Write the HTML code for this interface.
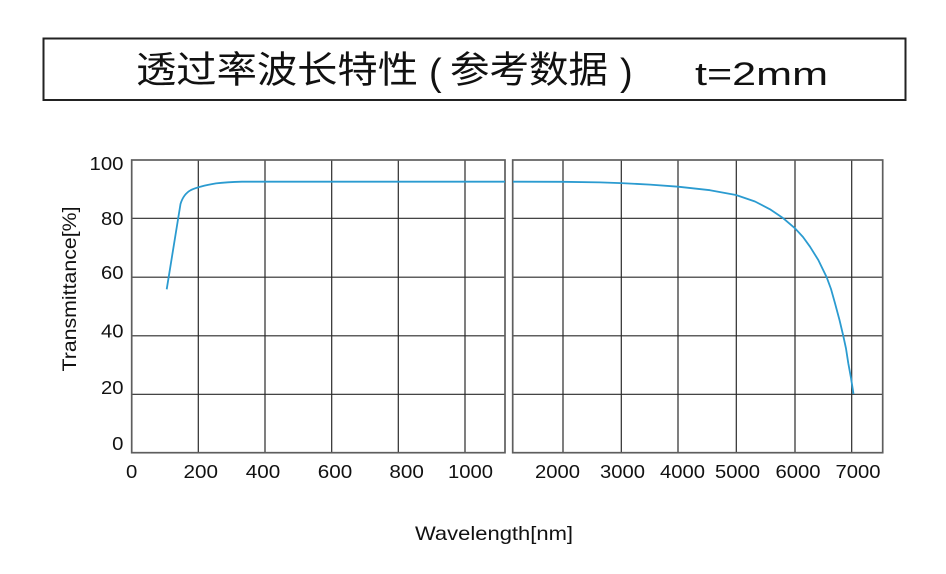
<!DOCTYPE html>
<html>
<head>
<meta charset="utf-8">
<style>
html,body{margin:0;padding:0;background:#fff;}
svg{display:block;}
text{font-family:"Liberation Sans","Noto Sans CJK SC",sans-serif;fill:#111;}
</style>
</head>
<body>
<svg width="946" height="574" viewBox="0 0 946 574" xmlns="http://www.w3.org/2000/svg">
  <rect x="0" y="0" width="946" height="574" fill="#fff"/>
  <!-- Title box -->
  <rect x="43.5" y="38.5" width="862" height="61.5" fill="none" stroke="#222" stroke-width="2"/>
  <text x="136" y="82.5" font-size="37" textLength="282" lengthAdjust="spacingAndGlyphs">透过率波长特性</text>
  <text x="429" y="85" font-size="38">(</text>
  <text x="450" y="82.5" font-size="37" textLength="158" lengthAdjust="spacingAndGlyphs">参考数据</text>
  <text x="620" y="85" font-size="38">)</text>
  <text x="695" y="85" font-size="32.5" textLength="133" lengthAdjust="spacingAndGlyphs">t=2mm</text>

  <!-- Grid lines -->
  <g stroke="#2a2a2a" stroke-width="1.2" fill="none">
    <!-- horizontal left -->
    <line x1="131.7" y1="218.3" x2="505" y2="218.3"/>
    <line x1="131.7" y1="277.2" x2="505" y2="277.2"/>
    <line x1="131.7" y1="335.8" x2="505" y2="335.8"/>
    <line x1="131.7" y1="394.3" x2="505" y2="394.3"/>
    <!-- horizontal right -->
    <line x1="512.7" y1="218.3" x2="882.7" y2="218.3"/>
    <line x1="512.7" y1="277.2" x2="882.7" y2="277.2"/>
    <line x1="512.7" y1="335.8" x2="882.7" y2="335.8"/>
    <line x1="512.7" y1="394.3" x2="882.7" y2="394.3"/>
    <!-- vertical left -->
    <line x1="198.3" y1="160" x2="198.3" y2="452.7"/>
    <line x1="265" y1="160" x2="265" y2="452.7"/>
    <line x1="331.7" y1="160" x2="331.7" y2="452.7"/>
    <line x1="398.3" y1="160" x2="398.3" y2="452.7"/>
    <line x1="465" y1="160" x2="465" y2="452.7"/>
    <!-- vertical right -->
    <line x1="563" y1="160" x2="563" y2="452.7"/>
    <line x1="621.3" y1="160" x2="621.3" y2="452.7"/>
    <line x1="678" y1="160" x2="678" y2="452.7"/>
    <line x1="736.3" y1="160" x2="736.3" y2="452.7"/>
    <line x1="795" y1="160" x2="795" y2="452.7"/>
    <line x1="851.7" y1="160" x2="851.7" y2="452.7"/>
  </g>
  <!-- Panel borders -->
  <rect x="131.7" y="160" width="373.3" height="292.7" fill="none" stroke="#5e5e5e" stroke-width="1.7"/>
  <rect x="512.7" y="160" width="370" height="292.7" fill="none" stroke="#5e5e5e" stroke-width="1.7"/>

  <!-- Curves -->
  <g fill="none" stroke="#2b9bd0" stroke-width="1.8" stroke-linejoin="round" stroke-linecap="butt">
    <path d="M166.7,289.3 L180.5,204 Q183.5,194 191,190 Q199,186.3 216,183.4 Q227,182 242,181.7 L505,181.7"/>
    <polyline points="513,181.7 563,181.8 600,182.4 621,183.1 650,184.6 678,186.7 710,190.2 736,195 755,201.5 770,209.3 783.3,218.3 795,228.3 803,237 810,246.7 818.3,260 826.7,277.3 831,289 835,303.3 839.5,320 843.3,336 846,348.5 848.3,363.3 851,378 853.5,394"/>
  </g>

  <!-- Y tick labels -->
  <g font-size="18.5" text-anchor="end">
    <text x="123.5" y="170" textLength="34" lengthAdjust="spacingAndGlyphs">100</text>
    <text x="123.5" y="225" textLength="22.5" lengthAdjust="spacingAndGlyphs">80</text>
    <text x="123.5" y="279.2" textLength="22.5" lengthAdjust="spacingAndGlyphs">60</text>
    <text x="123.5" y="337.5" textLength="22.5" lengthAdjust="spacingAndGlyphs">40</text>
    <text x="123.5" y="394.2" textLength="22.5" lengthAdjust="spacingAndGlyphs">20</text>
    <text x="123.5" y="450.2" textLength="11.3" lengthAdjust="spacingAndGlyphs">0</text>
  </g>
  <!-- X tick labels -->
  <g font-size="18.5" text-anchor="middle">
    <text x="131.7" y="478" textLength="11.3" lengthAdjust="spacingAndGlyphs">0</text>
    <text x="200.8" y="478" textLength="34.5" lengthAdjust="spacingAndGlyphs">200</text>
    <text x="263" y="478" textLength="34.5" lengthAdjust="spacingAndGlyphs">400</text>
    <text x="335" y="478" textLength="34.5" lengthAdjust="spacingAndGlyphs">600</text>
    <text x="406.7" y="478" textLength="34.5" lengthAdjust="spacingAndGlyphs">800</text>
    <text x="470.5" y="478" textLength="45" lengthAdjust="spacingAndGlyphs">1000</text>
    <text x="557.5" y="478" textLength="45" lengthAdjust="spacingAndGlyphs">2000</text>
    <text x="622.5" y="478" textLength="45" lengthAdjust="spacingAndGlyphs">3000</text>
    <text x="682.5" y="478" textLength="45" lengthAdjust="spacingAndGlyphs">4000</text>
    <text x="737.5" y="478" textLength="45" lengthAdjust="spacingAndGlyphs">5000</text>
    <text x="798" y="478" textLength="45" lengthAdjust="spacingAndGlyphs">6000</text>
    <text x="858" y="478" textLength="45" lengthAdjust="spacingAndGlyphs">7000</text>
  </g>

  <!-- Axis labels -->
  <text x="415" y="540" font-size="19.5" textLength="158" lengthAdjust="spacingAndGlyphs">Wavelength[nm]</text>
  <text transform="translate(76,289) rotate(-90)" x="0" y="0" font-size="19.5" text-anchor="middle" textLength="165" lengthAdjust="spacingAndGlyphs">Transmittance[%]</text>
</svg>
</body>
</html>
